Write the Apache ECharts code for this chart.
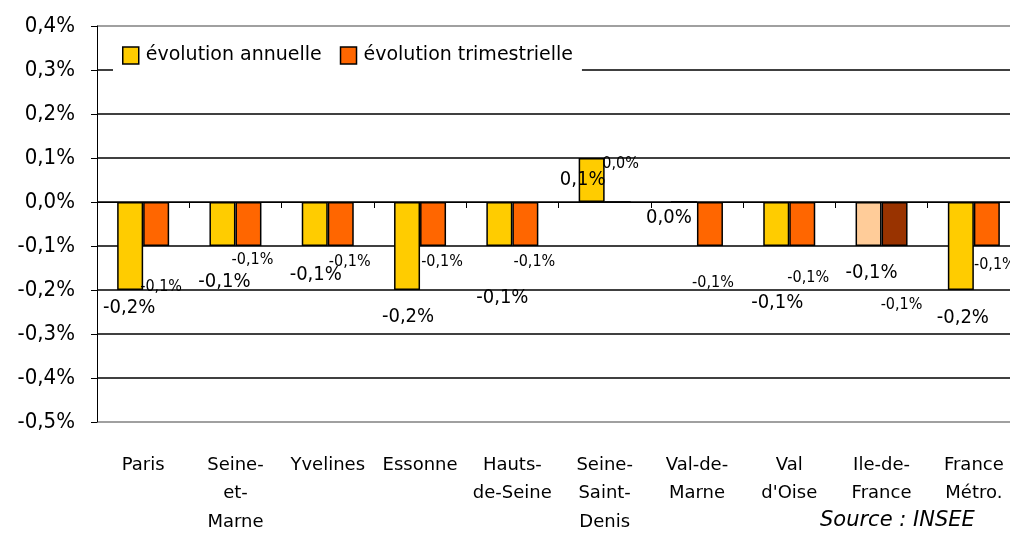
<!DOCTYPE html>
<html>
<head>
<meta charset="utf-8">
<script src="https://cdn.jsdelivr.net/npm/echarts@6/dist/echarts.min.js"></script>
<style>
  html, body { margin: 0; padding: 0; background: #fff; }
  #chart { width: 1010px; height: 548px; }
</style>
</head>
<body>
<div id="chart"></div>
<script>
// catégories (départements)
const categories = ['Paris', 'Seine-\net-\nMarne', 'Yvelines', 'Essonne', 'Hauts-\nde-Seine',
  'Seine-\nSaint-\nDenis', 'Val-de-\nMarne', 'Val\nd\'Oise', 'Ile-de-\nFrance', 'France\nMétro.']
const annualValues = [-0.2, -0.1, -0.1, -0.2, -0.1, 0.1, 0.0, -0.1, -0.1, -0.2]
const quarterValues = [-0.1, -0.1, -0.1, -0.1, -0.1, 0.0, -0.1, -0.1, -0.1, -0.1]
const yTicks = { min: -0.5, max: 0.4, interval: 0.1 }

// décalage des étiquettes (placement Excel)
const annualLabelOffset = [[-1, 62], [2, 58], [1, 51], [1, 71], [3, 74], [-9, 0], [-15, 16], [1, 79], [3, 49], [2, 72]]
const quarterLabelOffset = [[5, 63], [4, 36], [9, 38], [9, 38], [9, 38], [3, -38], [3, 59], [6, 54], [7, 81], [8, 41]]

const FONT = 'DejaVu Sans'
const FONT_NARROW = '"DejaVu Sans Condensed", "DejaVu Sans"'
const fmt = v => {
  if (Math.abs(v) < 1e-9) v = 0
  return v.toFixed(1).replace('.', ',') + '%'
}

function buildData (values, offsets, color, idfColor, fontSize) {
  return values.map((v, i) => ({
    value: v,
    itemStyle: i === 8 ? { color: idfColor } : { color: color },
    label: { offset: offsets[i], fontSize: fontSize }
  }))
}

const labelBase = {
  show: true,
  position: 'inside',
  color: '#000',
  textBorderWidth: 0,
  fontFamily: FONT_NARROW,
  formatter: p => fmt(p.value)
}

const chart = echarts.init(document.getElementById('chart'))
chart.setOption({
  animation: false,
  backgroundColor: '#fff',
  textStyle: { fontFamily: FONT },
  grid: { left: 97, right: -10, top: 26, bottom: 126, containLabel: false, outerBoundsMode: 'none' },
  legend: {
    left: 113,
    top: 36,
    padding: [10, 9, 10, 9],
    backgroundColor: '#fff',
    icon: 'rect',
    itemWidth: 16,
    itemHeight: 17,
    itemGap: 18,
    textStyle: { fontSize: 19, color: '#000', fontFamily: FONT, padding: [0, 0, 0, 2] },
    data: [
      { name: 'évolution annuelle', itemStyle: { color: '#FFCC00', borderColor: '#000', borderWidth: 1.5 } },
      { name: 'évolution trimestrielle', itemStyle: { color: '#FF6600', borderColor: '#000', borderWidth: 1.5 } }
    ]
  },
  xAxis: [
    {
      type: 'category',
      data: categories,
      axisLine: { onZero: true, lineStyle: { color: '#000', width: 1 } },
      axisTick: { show: true, length: 6, alignWithLabel: false, lineStyle: { color: '#000' } },
      axisLabel: { show: false },
      splitLine: { show: false }
    },
    {
      type: 'category',
      data: categories,
      position: 'bottom',
      axisLine: { show: false, onZero: false },
      axisTick: { show: false },
      axisLabel: {
        margin: 29,
        verticalAlign: 'top',
        fontSize: 18,
        lineHeight: 28.5,
        color: '#000',
        fontFamily: FONT,
        interval: 0
      },
      splitLine: { show: false }
    }
  ],
  yAxis: {
    type: 'value',
    min: yTicks.min,
    max: yTicks.max,
    interval: yTicks.interval,
    axisLine: { show: true, lineStyle: { color: '#000', width: 1 } },
    axisTick: { show: true, length: 6, inside: false, lineStyle: { color: '#000' } },
    axisLabel: {
      margin: 22,
      fontSize: 22,
      color: '#000',
      fontFamily: FONT_NARROW,
      formatter: fmt
    },
    splitLine: {
      show: true,
      showMinLine: true,
      showMaxLine: true,
      lineStyle: {
        color: ['#808080', '#000', '#000', '#000', '#000', '#000', '#000', '#000', '#000', '#808080'],
        width: 1.5
      }
    }
  },
  series: [
    {
      name: 'évolution annuelle',
      type: 'bar',
      barWidth: 26,
      barGap: '0%',
      itemStyle: { color: '#FFCC00', borderColor: '#000', borderWidth: 1.5 },
      label: labelBase,
      data: buildData(annualValues, annualLabelOffset, '#FFCC00', '#FFCC99', 20)
    },
    {
      name: 'évolution trimestrielle',
      type: 'bar',
      barWidth: 26,
      barGap: '0%',
      itemStyle: { color: '#FF6600', borderColor: '#000', borderWidth: 1.5 },
      label: labelBase,
      data: buildData(quarterValues, quarterLabelOffset, '#FF6600', '#993300', 16)
    }
  ],
  graphic: [{
    type: 'text',
    left: 820,
    top: 510,
    style: { text: 'Source : INSEE', font: 'italic 21px "DejaVu Sans"', fill: '#000' }
  }]
})
</script>
</body>
</html>
